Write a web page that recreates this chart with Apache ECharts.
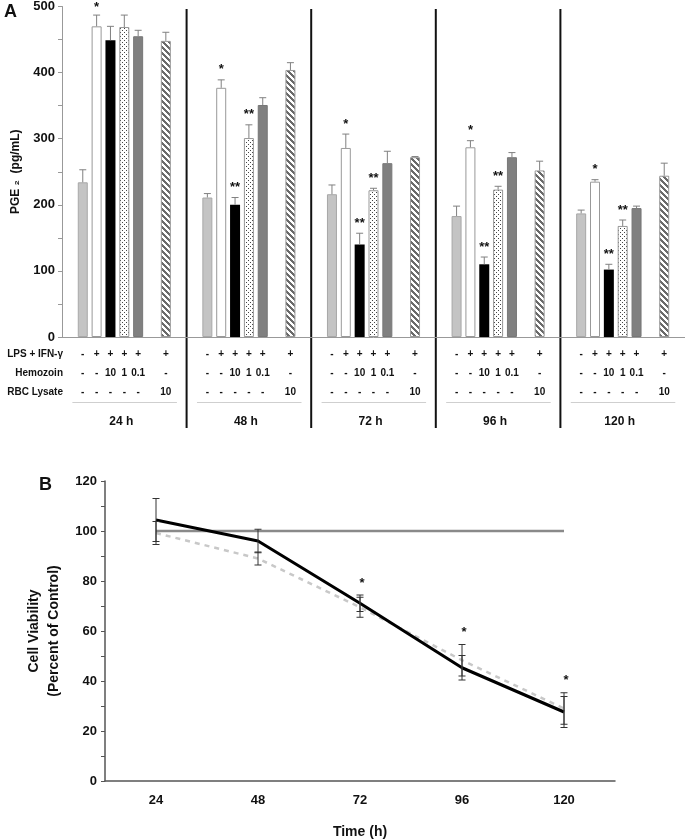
<!DOCTYPE html>
<html>
<head>
<meta charset="utf-8">
<script src="https://cdn.jsdelivr.net/npm/echarts@6/dist/echarts.min.js"></script>
<style>
html, body { margin: 0; padding: 0; background: #fff; }
#holder { width: 685px; height: 840px; }
</style>
</head>
<body>
<div id="holder"></div>
<script>
// ---- panel A : PGE2 ----
var times = ['24 h', '48 h', '72 h', '96 h', '120 h']
var rowNames = ['LPS + IFN-γ', 'Hemozoin', 'RBC Lysate']
var lpsRow = ['-', '+', '+', '+', '+', '+']
var hzRow = ['-', '-', '10', '1', '0.1', '-']
var rbcRow = ['-', '-', '-', '-', '-', '10']

var pgeControl = [234, 211, 216, 183, 187]
var pgeControlErr = [19, 6, 14, 15, 5]
var pgeLps = [470, 377, 286, 287, 235]
var pgeLpsErr = [17, 12, 21, 10, 3]
var pgeHz10 = [449, 200, 140, 110, 102]
var pgeHz10Err = [21, 11, 17, 11, 8]
var pgeHz1 = [469, 301, 222, 223, 168]
var pgeHz1Err = [18, 20, 3, 5, 9]
var pgeHz01 = [455, 351, 263, 272, 195]
var pgeHz01Err = [9, 11, 18, 7, 3]
var pgeRbc = [448, 404, 272, 252, 244]
var pgeRbcErr = [13, 11, 1, 14, 19]
var sigLps = ['*', '*', '*', '*', '*']
var sigHz10 = ['', '**', '**', '**', '**']
var sigHz1 = ['', '**', '**', '**', '**']

// ---- panel B : cell viability ----
var hours = ['24', '48', '72', '96', '120']
var viaControl = [100, 100, 100, 100, 100]
var viaHz = [104.4, 96, 71.1, 45.3, 27.6]
var viaHzErr = [8.6, 4.7, 3.3, 4.9, 6.2]
var viaRbc = [99.2, 89, 69.5, 48.3, 29]
var viaRbcErr = [4.6, 2.6, 4.0, 6.3, 6.3]
var sigB = ['', '', '*', '*', '*']

var FONT = '"Liberation Sans", Arial, sans-serif'

// slot of each treatment inside a group of 9 slots (slot 6 stays empty)
var slotOf = [1, 2, 3, 4, 5, 7]
var perGroup = 9

function dotPattern() {
  var c = document.createElement('canvas')
  c.width = 4; c.height = 4
  var g = c.getContext('2d')
  g.fillStyle = '#fff'; g.fillRect(0, 0, 4, 4)
  g.fillStyle = '#444'
  g.fillRect(0, 0, 1, 1); g.fillRect(2, 2, 1, 1)
  return c
}

function hatchPattern() {
  var n = 6
  var c = document.createElement('canvas')
  c.width = n; c.height = n
  var g = c.getContext('2d')
  g.fillStyle = '#fff'; g.fillRect(0, 0, n, n)
  g.fillStyle = '#6a6a6a'
  for (var y = 0; y < n; y++) {
    for (var x = 0; x < n; x++) {
      if ((((x - y) % n) + n) % n < 3) g.fillRect(x, y, 1, 1)
    }
  }
  return c
}

var pgeSets = [
  {v: pgeControl, e: pgeControlErr, sig: null, fill: '#c4c4c4', border: '#a8a8a8'},
  {v: pgeLps, e: pgeLpsErr, sig: sigLps, fill: '#fff', border: '#999'},
  {v: pgeHz10, e: pgeHz10Err, sig: sigHz10, fill: '#000', border: '#000'},
  {v: pgeHz1, e: pgeHz1Err, sig: sigHz1, fill: {image: dotPattern(), repeat: 'repeat'}, border: '#999'},
  {v: pgeHz01, e: pgeHz01Err, sig: null, fill: '#808080', border: '#777'},
  {v: pgeRbc, e: pgeRbcErr, sig: null, fill: {image: hatchPattern(), repeat: 'repeat'}, border: '#999'}
]

var slotCats = []
for (var g = 0; g < times.length; g++) {
  for (var s = 0; s < perGroup; s++) slotCats.push(times[g] + '#' + s)
}

var barSeries = pgeSets.map(function (set, t) {
  var data = slotCats.map(function () { return '-' })
  set.v.forEach(function (v, g) { data[g * perGroup + slotOf[t]] = v })
  return {
    type: 'bar', xAxisIndex: 0, yAxisIndex: 0,
    data: data, barWidth: 10, barGap: '-100%',
    itemStyle: {color: set.fill, borderColor: set.border, borderWidth: t === 2 ? 0 : 1},
    z: 2
  }
})

var errA = []
pgeSets.forEach(function (set, t) {
  set.v.forEach(function (v, g) {
    errA.push({slot: g * perGroup + slotOf[t], v: v, e: set.e[g], sig: set.sig ? set.sig[g] : ''})
  })
})

function renderErrA(params, api) {
  var x = api.value(0), v = api.value(1), e = api.value(2)
  var base = api.coord([x, v])
  var top = api.coord([x, v + e])
  var st = {stroke: '#808080', lineWidth: 1}
  var kids = [
    {type: 'line', shape: {x1: base[0], y1: base[1], x2: top[0], y2: top[1]}, style: st},
    {type: 'line', shape: {x1: top[0] - 3.5, y1: top[1], x2: top[0] + 3.5, y2: top[1]}, style: st}
  ]
  var sig = errA[params.dataIndex].sig
  if (sig) {
    kids.push({type: 'text', style: {
      text: sig, x: top[0], y: Math.max(top[1] - 10, 7),
      align: 'center', verticalAlign: 'middle',
      font: 'bold 13px ' + FONT, fill: '#111'
    }})
  }
  return {type: 'group', children: kids}
}

function errB(vals, errs) {
  return vals.map(function (v, i) { return [i, v, errs[i]] })
}

function renderErrB(params, api) {
  var x = api.value(0), v = api.value(1), e = api.value(2)
  var lo = api.coord([x, v - e])
  var hi = api.coord([x, v + e])
  var st = {stroke: '#333', lineWidth: 1}
  return {type: 'group', children: [
    {type: 'line', shape: {x1: lo[0], y1: lo[1], x2: hi[0], y2: hi[1]}, style: st},
    {type: 'line', shape: {x1: lo[0] - 3.5, y1: lo[1], x2: lo[0] + 3.5, y2: lo[1]}, style: st},
    {type: 'line', shape: {x1: hi[0] - 3.5, y1: hi[1], x2: hi[0] + 3.5, y2: hi[1]}, style: st}
  ]}
}

var starB = []
sigB.forEach(function (s, i) {
  if (s) starB.push([i, Math.max(viaHz[i] + viaHzErr[i], viaRbc[i] + viaRbcErr[i])])
})

function renderStarB(params, api) {
  var p = api.coord([api.value(0), api.value(1)])
  return {type: 'text', style: {
    text: sigB[api.value(0)], x: p[0] + 2, y: p[1] - 12,
    align: 'center', verticalAlign: 'middle',
    font: 'bold 13px ' + FONT, fill: '#111'
  }}
}

var option = {
  animation: false,
  textStyle: {fontFamily: FONT},
  grid: [
    {left: 62, top: 4.5, width: 630, height: 332.5},
    {left: 105, top: 481, width: 510, height: 300}
  ],
  xAxis: [
    {
      type: 'category', gridIndex: 0, data: slotCats,
      axisLine: {lineStyle: {color: '#999', width: 1}},
      axisTick: {show: false},
      axisLabel: {
        interval: 0, margin: 8, lineHeight: 19,
        fontSize: 10, fontWeight: 'bold', color: '#111',
        formatter: function (val, idx) {
          var t = slotOf.indexOf(idx % perGroup)
          if (t < 0) return ''
          return lpsRow[t] + '\n' + hzRow[t] + '\n' + rbcRow[t]
        }
      }
    },
    {
      type: 'category', gridIndex: 1, data: hours,
      axisLine: {lineStyle: {color: '#555', width: 1.5}},
      axisTick: {show: false},
      axisLabel: {margin: 13, fontSize: 13, fontWeight: 'bold', color: '#111'},
      name: 'Time (h)', nameLocation: 'middle', nameGap: 44,
      nameTextStyle: {fontSize: 14, fontWeight: 'bold', color: '#111'}
    }
  ],
  yAxis: [
    {
      type: 'value', gridIndex: 0, min: 0, max: 500, interval: 100,
      axisLine: {show: true, lineStyle: {color: '#999', width: 1}},
      axisTick: {show: true, length: 4, lineStyle: {color: '#999'}},
      minorTick: {show: true, splitNumber: 2, length: 4, lineStyle: {color: '#999'}},
      splitLine: {show: false},
      axisLabel: {margin: 7, fontSize: 13, fontWeight: 'bold', color: '#111'},
      name: 'PGE ₂  (pg/mL)', nameLocation: 'middle', nameGap: 40,
      nameTextStyle: {fontSize: 12, fontWeight: 'bold', color: '#111'}
    },
    {
      type: 'value', gridIndex: 1, min: 0, max: 120, interval: 20,
      axisLine: {show: true, lineStyle: {color: '#555', width: 1.5}},
      axisTick: {show: true, length: 4, lineStyle: {color: '#555'}},
      minorTick: {show: true, splitNumber: 2, length: 4, lineStyle: {color: '#555'}},
      splitLine: {show: false},
      axisLabel: {margin: 8, fontSize: 13, fontWeight: 'bold', color: '#111'},
      name: 'Cell Viability\n(Percent of Control)', nameLocation: 'middle', nameGap: 38,
      nameTextStyle: {fontSize: 14, fontWeight: 'bold', color: '#111', lineHeight: 20}
    }
  ],
  series: barSeries.concat([
    {
      type: 'custom', xAxisIndex: 0, yAxisIndex: 0, z: 3,
      data: errA.map(function (d) { return [d.slot, d.v, d.e] }),
      renderItem: renderErrA
    },
    {
      type: 'line', xAxisIndex: 1, yAxisIndex: 1, data: viaRbc, symbol: 'none',
      lineStyle: {color: '#c8c8c8', width: 2.5, type: [5, 5]}, z: 2
    },
    {
      type: 'line', xAxisIndex: 1, yAxisIndex: 1, data: viaControl, symbol: 'none',
      lineStyle: {color: '#8a8a8a', width: 2.5}, z: 3
    },
    {
      type: 'line', xAxisIndex: 1, yAxisIndex: 1, data: viaHz, symbol: 'none',
      lineStyle: {color: '#000', width: 3}, z: 4
    },
    {
      type: 'custom', xAxisIndex: 1, yAxisIndex: 1, z: 5,
      data: errB(viaHz, viaHzErr), renderItem: renderErrB
    },
    {
      type: 'custom', xAxisIndex: 1, yAxisIndex: 1, z: 5,
      data: errB(viaRbc, viaRbcErr), renderItem: renderErrB
    },
    {
      type: 'custom', xAxisIndex: 1, yAxisIndex: 1, z: 5,
      data: starB, renderItem: renderStarB
    }
  ])
}

var chart = echarts.init(document.getElementById('holder'))
chart.setOption(option)

// table decoration for panel A, placed from the axis scale
var px = function (i) { return chart.convertToPixel({xAxisIndex: 0}, i) }
var yBase = chart.convertToPixel({yAxisIndex: 0}, 0)
var slotW = px(1) - px(0)
var items = []
times.forEach(function (t, g) {
  var left = px(g * perGroup) - slotW / 2
  var mid = left + perGroup * slotW / 2
  items.push({type: 'line', shape: {x1: left + 0.75 * slotW, y1: yBase + 65.5, x2: left + 8.3 * slotW, y2: yBase + 65.5},
    style: {stroke: '#cfcfcf', lineWidth: 1}})
  items.push({type: 'text', style: {text: t, x: mid - 3, y: yBase + 85, align: 'center', verticalAlign: 'middle',
    font: 'bold 12px ' + FONT, fill: '#111'}})
  if (g > 0) {
    items.push({type: 'line', shape: {x1: left, y1: 9, x2: left, y2: yBase + 91},
      style: {stroke: '#111', lineWidth: 2}})
  }
})
rowNames.forEach(function (n, r) {
  items.push({type: 'text', style: {text: n, x: px(0) - slotW / 2 + 1, y: yBase + 17.5 + r * 19,
    align: 'right', verticalAlign: 'middle', font: 'bold 10px ' + FONT, fill: '#111'}})
})
items.push({type: 'text', style: {text: 'A', x: 4, y: 3, font: 'bold 18px ' + FONT, fill: '#111'}})
items.push({type: 'text', style: {text: 'B', x: 39, y: 476, font: 'bold 18px ' + FONT, fill: '#111'}})
chart.setOption({graphic: items})
</script>
</body>
</html>
